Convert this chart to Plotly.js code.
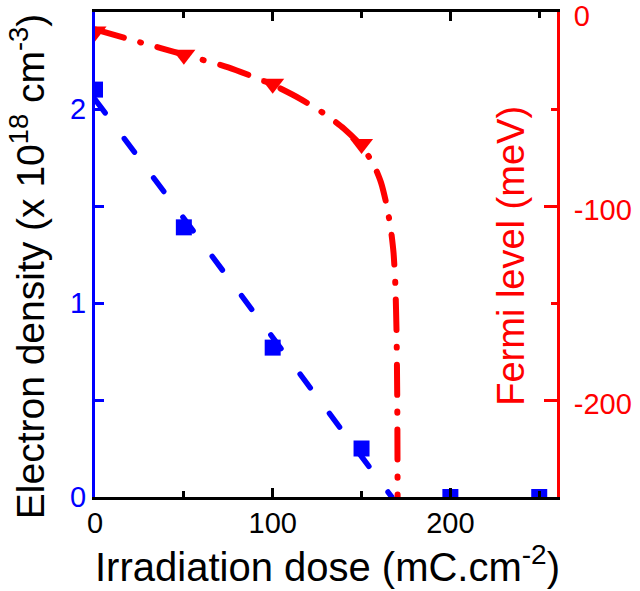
<!DOCTYPE html>
<html>
<head>
<meta charset="utf-8">
<script src="https://cdn.plot.ly/plotly-3.0.1.min.js"></script>
<style>
html,body{margin:0;padding:0;background:#fff;}
#chart{width:640px;height:591px;}
.js-line{stroke-linecap:round;}
</style>
</head>
<body>
<div id="chart"></div>
<script>
// Measured data (electron density, x1e18 cm^-3)
var doseDensity = [0, 50, 100, 150, 200, 250];
var density = [2.10, 1.39, 0.77, 0.25, 0, 0];
// Linear fit line for density
var fitDose = [0, 167];
var fitDensity = [2.05, 0];
// Fermi level points (meV)
var doseFermi = [0, 50, 100, 150];
var fermi = [-10, -22, -37, -68];
// Fermi level model curve
var curveDose = [0, 25, 50, 75, 100, 115, 130, 140, 150, 157, 161, 164, 166.5, 168, 169, 169.7, 170.1, 170.3];
var curveFermi = [-9, -15.5, -22, -28.5, -37.5, -44.5, -53, -60, -69, -79, -88, -99, -112, -124, -140, -165, -200, -250];

var xTickVals = [0, 100, 200];
var xTickText = ['0', '100', '200'];
var xMinor = [50, 150, 250];
var yTickVals = [0, 1, 2];
var yTickText = ['0', '1', '2'];
var yMinor = [0.5, 1.5, 2.5];
var y2TickVals = [0, -100, -200];
var y2TickText = ['0', '-100', '-200'];
var y2Minor = [-50, -150, -250];

var FONT = 'Arial, "Liberation Sans", sans-serif';
var BLUE = '#0000ff', RED = '#ff0000';

var traces = [
  {x: fitDose, y: fitDensity, mode: 'lines', yaxis: 'y',
   line: {color: BLUE, width: 5.5, dash: '17px,32px'}, hoverinfo: 'skip'},
  {x: doseDensity, y: density, mode: 'markers', yaxis: 'y',
   marker: {symbol: 'square', size: 16, color: BLUE, line: {width: 0}}},
  {x: curveDose, y: curveFermi, mode: 'lines', yaxis: 'y2',
   line: {color: RED, width: 6, dash: '30px,17px,1px,17px', shape: 'spline', smoothing: 0.6}},
  {x: doseFermi, y: fermi, mode: 'markers', yaxis: 'y2',
   marker: {symbol: 'triangle-down', size: 20, color: RED, line: {width: 0}}}
];

var layout = {
  width: 640, height: 591,
  margin: {l: 95, r: 83, t: 12, b: 94},
  paper_bgcolor: '#fff', plot_bgcolor: '#fff',
  showlegend: false,
  font: {family: FONT, size: 29, color: '#000'},
  xaxis: {
    range: [0, 260], showgrid: false, zeroline: false,
    tickmode: 'array', tickvals: xTickVals, ticktext: xTickText,
    ticks: 'inside', ticklen: 9, tickwidth: 3, tickcolor: '#000',
    showline: true, linecolor: '#000', linewidth: 3, mirror: 'ticks',
    tickfont: {family: FONT, size: 29, color: '#000'},
    ticklabeloverflow: 'allow', ticklabelstandoff: -2,
    minor: {tickmode: 'array', tickvals: xMinor, ticks: 'inside', ticklen: 6, tickwidth: 3, tickcolor: '#000', showgrid: false},
    fixedrange: true
  },
  yaxis: {
    range: [0, 2.5], showgrid: false, zeroline: false,
    tickmode: 'array', tickvals: yTickVals, ticktext: yTickText,
    ticks: 'inside', ticklen: 9, tickwidth: 3, tickcolor: BLUE,
    showline: true, linecolor: BLUE, linewidth: 3,
    tickfont: {family: FONT, size: 29, color: BLUE},
    ticklabeloverflow: 'allow',
    minor: {tickmode: 'array', tickvals: yMinor, ticks: 'inside', ticklen: 9, tickwidth: 3, tickcolor: BLUE, showgrid: false},
    fixedrange: true
  },
  yaxis2: {
    overlaying: 'y', side: 'right',
    range: [-250, 0], showgrid: false, zeroline: false,
    tickmode: 'array', tickvals: y2TickVals, ticktext: y2TickText,
    ticks: 'inside', ticklen: 13, tickwidth: 3, tickcolor: RED,
    showline: true, linecolor: RED, linewidth: 3,
    tickfont: {family: FONT, size: 29, color: RED},
    ticklabeloverflow: 'allow', ticklabelstandoff: 8, ticklabelshift: 4,
    minor: {tickmode: 'array', tickvals: y2Minor, ticks: 'inside', ticklen: 6, tickwidth: 3, tickcolor: RED, showgrid: false},
    fixedrange: true
  },
  annotations: [
    {text: 'Irradiation dose (mC.cm<sup>-2</sup>)', xref: 'paper', yref: 'paper',
     x: 0.504, y: -0.083, xanchor: 'center', yanchor: 'top', showarrow: false,
     font: {family: FONT, size: 40, color: '#000'}},
    {text: 'Electron density (x 10<sup>18</sup> cm<sup>-3</sup>)', xref: 'paper', yref: 'paper',
     x: -0.147, y: 0.476, xanchor: 'center', yanchor: 'middle', textangle: -90, showarrow: false,
     font: {family: FONT, size: 39, color: '#000'}},
    {text: 'Fermi level (meV)', xref: 'paper', yref: 'paper',
     x: 0.9, y: 0.497, xanchor: 'center', yanchor: 'middle', textangle: -90, showarrow: false,
     font: {family: FONT, size: 38, color: RED}}
  ]
};

Plotly.newPlot('chart', traces, layout, {displayModeBar: false, staticPlot: true});
</script>
</body>
</html>
